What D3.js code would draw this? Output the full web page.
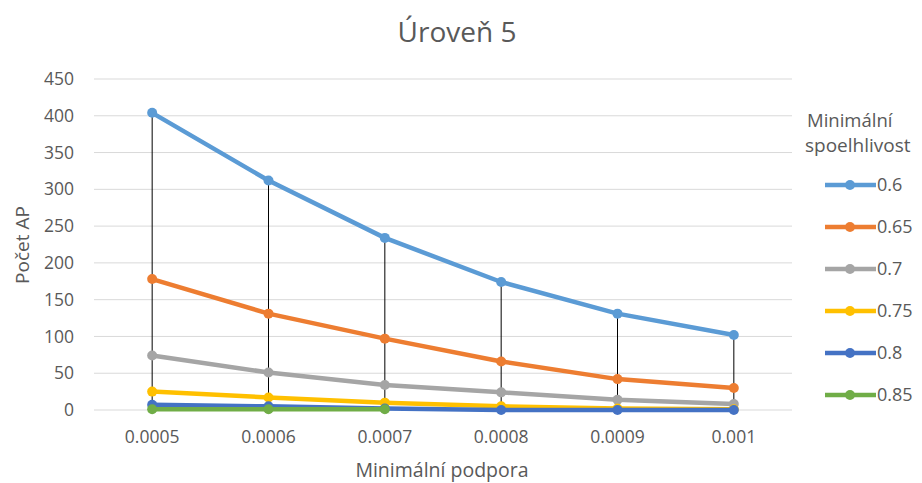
<!DOCTYPE html>
<html><head><meta charset="utf-8">
<script src="https://cdn.jsdelivr.net/npm/d3@7"></script>
<style>body{margin:0;background:#fff}svg text{font-family:"Open Sans","Noto Sans",sans-serif}</style>
</head><body><svg id="c" width="922" height="483"></svg>
<script>
const categories = ["0.0005","0.0006","0.0007","0.0008","0.0009","0.001"];
const seriesNames = ["0.6","0.65","0.7","0.75","0.8","0.85"];
const s06  = [404, 312, 234, 174, 131, 102];
const s065 = [178, 131, 97, 66, 42, 30];
const s07  = [74, 51, 34, 24, 14, 8];
const s075 = [25, 17, 10, 5, 2, 1];
const s08  = [7, 5, 2, 0, 0, 0];
const s085 = [1, 1, 1, null, null, null];
const yTicks = [0,50,100,150,200,250,300,350,400,450];
const colors = ["#5B9BD5","#ED7D31","#A5A5A5","#FFC000","#4472C4","#70AD47"];
const allSeries = [s06,s065,s07,s075,s08,s085];

const svg = d3.select("#c");
const x = d3.scaleBand().domain(categories).range([94, 792]);
const y = d3.scaleLinear().domain([0,450]).range([410, 79]);
const cx = c => x(c) + x.bandwidth()/2;

// gridlines
svg.append("g").selectAll("line").data(yTicks).join("line")
  .attr("x1",94).attr("x2",792).attr("y1",d=>y(d)).attr("y2",d=>y(d))
  .attr("stroke","#D9D9D9").attr("stroke-width",1);

// y axis labels
const yAxis = d3.axisLeft(y).tickValues(yTicks).tickSize(0).tickPadding(0);
const gy = svg.append("g").attr("transform","translate(74,0)").call(yAxis);
gy.select(".domain").remove();
gy.selectAll("text").attr("fill","#595959").style("font-size","17.5px");

// x axis labels
const xAxis = d3.axisBottom(x).tickSize(0).tickPadding(0);
const gx = svg.append("g").attr("transform","translate(0,437)").call(xAxis);
gx.select(".domain").remove();
gx.selectAll("text").attr("fill","#595959").style("font-size","17.5px").attr("y",0).attr("dy","0.35em");

// high-low lines
svg.append("g").selectAll("line").data(categories).join("line")
  .attr("x1",d=>cx(d)).attr("x2",d=>cx(d))
  .attr("y1",(d,i)=>y(d3.max(allSeries,s=>s[i])))
  .attr("y2",(d,i)=>y(d3.min(allSeries,s=>s[i]==null?Infinity:s[i])))
  .attr("stroke","#000").attr("stroke-width",1);

// series
const line = d3.line().defined(d=>d.v!=null).x(d=>cx(d.c)).y(d=>y(d.v));
allSeries.forEach((s,k)=>{
  const pts = categories.map((c,i)=>({c,v:s[i]}));
  svg.append("path").datum(pts).attr("d",line).attr("fill","none")
    .attr("stroke",colors[k]).attr("stroke-width",4.5).attr("stroke-linejoin","round").attr("stroke-linecap","round");
  svg.append("g").selectAll("circle").data(pts.filter(d=>d.v!=null)).join("circle")
    .attr("cx",d=>cx(d.c)).attr("cy",d=>y(d.v)).attr("r",5).attr("fill",colors[k]);
});

// title
svg.append("text").attr("x",457).attr("y",42).attr("text-anchor","middle")
  .attr("fill","#595959").style("font-size","28px").text("Úroveň 5");
// axis titles
svg.append("text").attr("transform","translate(29,245) rotate(-90)").attr("text-anchor","middle")
  .attr("fill","#595959").style("font-size","19px").text("Počet AP");
svg.append("text").attr("x",442).attr("y",477).attr("text-anchor","middle")
  .attr("fill","#595959").style("font-size","19.5px").text("Minimální podpora");

// legend
const lg = svg.append("g");
lg.append("text").attr("x",807).attr("y",127).attr("fill","#595959").style("font-size","18.5px").text("Minimální");
lg.append("text").attr("x",805).attr("y",152).attr("fill","#595959").style("font-size","19px").text("spoelhlivost");
seriesNames.forEach((n,k)=>{
  const yy = 185 + k*42;
  lg.append("line").attr("x1",825).attr("x2",876).attr("y1",yy).attr("y2",yy)
    .attr("stroke",colors[k]).attr("stroke-width",4.5);
  lg.append("circle").attr("cx",850).attr("cy",yy).attr("r",5).attr("fill",colors[k]);
  lg.append("text").attr("x",877).attr("y",yy).attr("dy","0.35em").attr("fill","#595959").style("font-size","18px").text(n);
});
</script></body></html>
